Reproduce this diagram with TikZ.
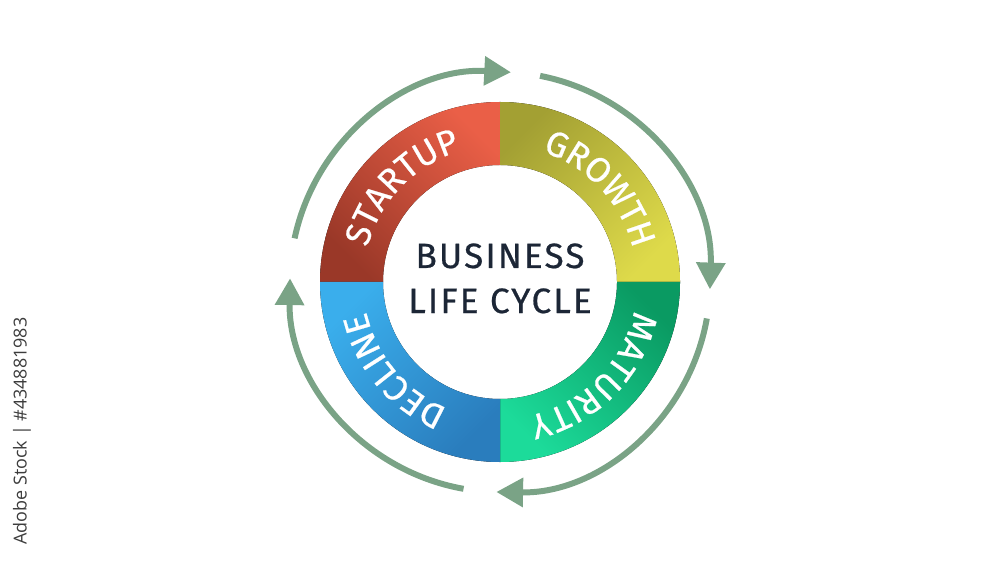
\documentclass[tikz,border=0pt]{standalone}
\usepackage{fontspec}
\usepackage{tikz}
\usetikzlibrary{calc,arrows.meta,decorations.text}

\newfontfamily\lblfont{Fira Sans}[FakeBold=0.6,LetterSpace=6]
\newfontfamily\stockfont{Open Sans}
\newcommand\ringfont{\lblfont\fontsize{10}{11}\selectfont}

\definecolor{cycgreen}{HTML}{7AA386}
\definecolor{bizink}{HTML}{1C2636}
\definecolor{stockgray}{HTML}{3C3C3C}
\definecolor{startlight}{HTML}{EA5F47}
\definecolor{startdark}{HTML}{9A3828}
\definecolor{growdark}{HTML}{A3A033}
\definecolor{growlight}{HTML}{DEDA4A}
\definecolor{matdark}{HTML}{0A9A62}
\definecolor{matlight}{HTML}{1CDB9A}
\definecolor{declight}{HTML}{3AAEEC}
\definecolor{decdark}{HTML}{2A7DBD}

\begin{document}
\begin{tikzpicture}[
  cycarrow/.style={draw=cycgreen,line width=1.7pt,-{Triangle[length=7.6pt,width=8pt]}},
  ringtext/.style={decorate,decoration={text along path,text align=center,text color=white,text={|\ringfont|#1}}}
]

\useasboundingbox (0,0) rectangle (10,5.63);
\coordinate (c) at (5,2.81);

\fill[top color=startlight,bottom color=startdark,shading angle=-45] ($(c)+(90:1.8)$) arc[start angle=90,end angle=180,radius=1.8] -- ($(c)+(180:1.17)$) arc[start angle=180,end angle=90,radius=1.17] -- cycle;
\fill[top color=growdark,bottom color=growlight,shading angle=45] ($(c)+(0:1.8)$) arc[start angle=0,end angle=90,radius=1.8] -- ($(c)+(90:1.17)$) arc[start angle=90,end angle=0,radius=1.17] -- cycle;
\fill[top color=matdark,bottom color=matlight,shading angle=-45] ($(c)+(-90:1.8)$) arc[start angle=-90,end angle=0,radius=1.8] -- ($(c)+(0:1.17)$) arc[start angle=0,end angle=-90,radius=1.17] -- cycle;
\fill[top color=declight,bottom color=decdark,shading angle=45] ($(c)+(180:1.8)$) arc[start angle=180,end angle=270,radius=1.8] -- ($(c)+(270:1.17)$) arc[start angle=270,end angle=180,radius=1.17] -- cycle;

\path[ringtext=STARTUP] ($(c)+(166:1.37)$) arc[start angle=166,end angle=106,radius=1.37];
\path[ringtext=GROWTH] ($(c)+(73:1.37)$) arc[start angle=73,end angle=13,radius=1.37];
\path[ringtext=MATURITY] ($(c)+(-10:1.37)$) arc[start angle=-10,end angle=-80,radius=1.37];
\path[ringtext=DECLINE] ($(c)+(-110:1.37)$) arc[start angle=-110,end angle=-170,radius=1.37];

\node[anchor=base,text=bizink,font=\ringfont] (biz) at (5,2.95) {BUSINESS};
\node[anchor=base,text=bizink,font=\ringfont] (life) at (5,2.50) {LIFE CYCLE};

\draw[cycarrow] ($(c)+(168:2.1)$) arc[start angle=168,end angle=87,radius=2.1];
\draw[cycarrow] ($(c)+(79:2.1)$) arc[start angle=79,end angle=-2,radius=2.1];
\draw[cycarrow] ($(c)+(-10:2.1)$) arc[start angle=-10,end angle=-91,radius=2.1];
\draw[cycarrow] ($(c)+(-100:2.1)$) arc[start angle=-100,end angle=-181,radius=2.1];

\node[rotate=90,text=stockgray,font=\stockfont\fontsize{5.1}{6}\selectfont] (stock) at (0.22,1.32) {Adobe Stock | \#434881983};

\end{tikzpicture}
\end{document}
